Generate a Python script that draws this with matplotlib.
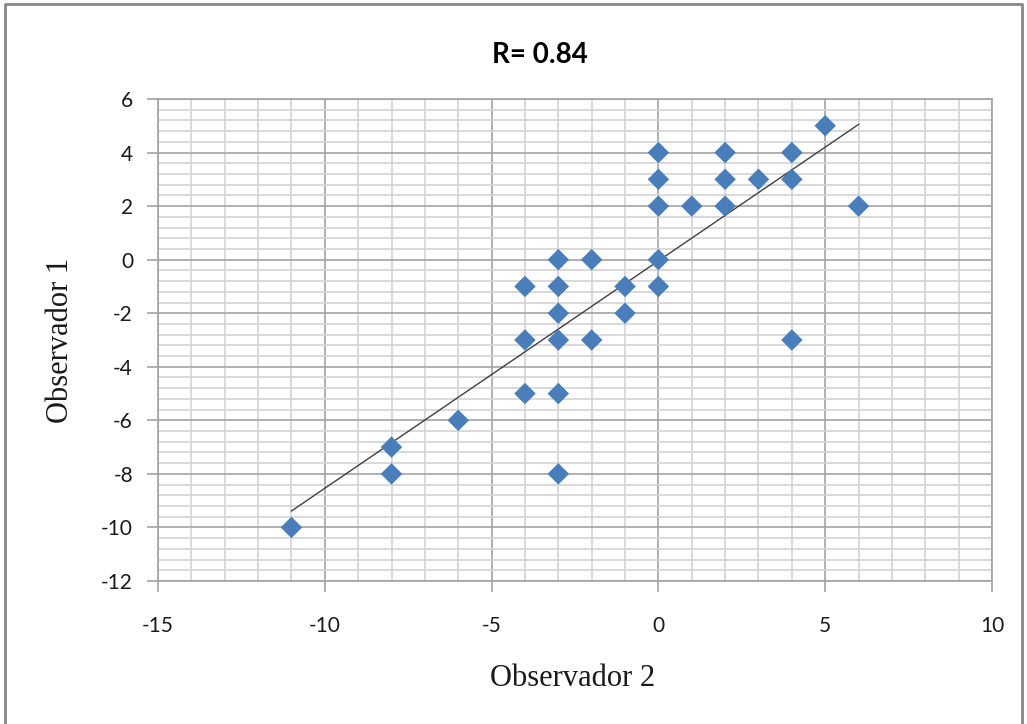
import numpy as np
import matplotlib
matplotlib.use('Agg')
import matplotlib.pyplot as plt
from matplotlib.ticker import MultipleLocator
from matplotlib.lines import Line2D

plt.rcParams['axes.unicode_minus'] = False

# Observador 2 (x) vs Observador 1 (y)
obs2 = [-11, -8, -8, -6, -4, -4, -4, -3, -3, -3, -3, -3, -3, -2, -2, -1, -1,
        0, 0, 0, 0, 0, 1, 2, 2, 2, 3, 4, 4, 4, 5, 6]
obs1 = [-10, -7, -8, -6, -1, -3, -5, 0, -1, -2, -3, -5, -8, 0, -3, -1, -2,
        4, 3, 2, 0, -1, 2, 4, 3, 2, 3, 4, 3, -3, 5, 2]
title = 'R= 0.84'

x = np.array(obs2, dtype=float)
y = np.array(obs1, dtype=float)
slope, intercept = np.polyfit(x, y, 1)

sans = ['Lato', 'DejaVu Sans']

fig = plt.figure(figsize=(10.27, 7.24), dpi=100)
ax = fig.add_axes([158 / 1027, 1 - 581 / 724, (992 - 158) / 1027, (581 - 99) / 724])

ax.set_xlim(-15, 10)
ax.set_ylim(-12, 6)
ax.xaxis.set_major_locator(MultipleLocator(5))
ax.xaxis.set_minor_locator(MultipleLocator(1))
ax.yaxis.set_major_locator(MultipleLocator(2))
ax.yaxis.set_minor_locator(MultipleLocator(0.4))
ax.grid(which='major', color='#a3a3a3', linewidth=1.2)
ax.grid(which='minor', color='#d3d3d3', linewidth=1.2)
ax.set_axisbelow(True)
for s in ax.spines.values():
    s.set_color('#a3a3a3')
    s.set_linewidth(1.2)
ax.tick_params(which='major', direction='out', length=8, color='#a3a3a3', width=1.2,
               labelsize=15, labelcolor='#1a1a1a')
ax.tick_params(axis='x', which='major', pad=17)
ax.tick_params(axis='y', which='major', pad=10)
ax.tick_params(which='minor', length=0)
for lab in ax.get_xticklabels() + ax.get_yticklabels():
    lab.set_family(sans)

# linear trend line
xs = np.array([x.min(), x.max()])
ax.plot(xs, slope * xs + intercept, color='#404040', linewidth=1.0, zorder=2)
ax.scatter(x, y, marker='D', s=120, color='#4a7ebb', edgecolors='none', zorder=3)

ax.set_xlabel('Observador 2', family='Liberation Serif', fontsize=22, color='#1a1a1a')
ax.set_ylabel('Observador 1', family='Liberation Serif', fontsize=22, color='#1a1a1a')
ax.xaxis.label.set_va('center')
ax.yaxis.label.set_va('center')
ax.xaxis.set_label_coords((573 - 158) / 834, -(678 - 581) / 482)
ax.yaxis.set_label_coords(-(158 - 60) / 834, (581 - 340) / 482)

fig.text(0.526, 1 - 55 / 724, title, ha='center', va='center', fontsize=20,
         fontweight='bold', family=sans)

# outer chart border
fig.add_artist(Line2D([5 / 1027, 5 / 1027, 1022 / 1027, 1022 / 1027],
                      [0, 1 - 4 / 724, 1 - 4 / 724, 0],
                      transform=fig.transFigure, color='#888888', linewidth=2))

fig.savefig('out.png', dpi=100)
